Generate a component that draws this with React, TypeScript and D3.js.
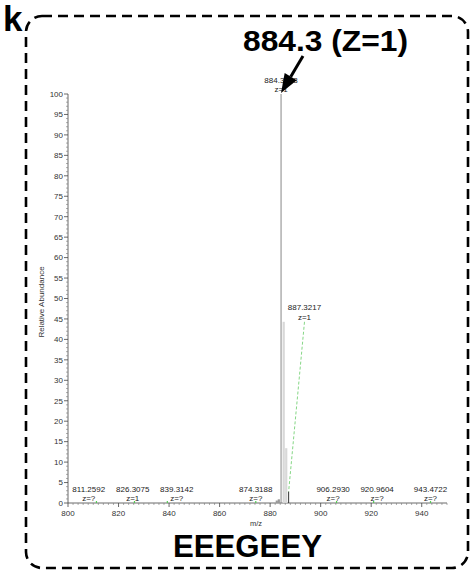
import React from "react";
import * as d3 from "d3";

// ---- data ----
const labelMz = [811.2592, 826.3075, 839.3142, 874.3188, 884.3243, 887.3217, 906.293, 920.9604, 943.4722];
const labelIntensity = [0.3, 0.3, 0.3, 0.3, 100, 2.8, 0.3, 0.3, 0.3];
const labelCharge = ["z=?", "z=1", "z=?", "z=?", "z=1", "z=1", "z=?", "z=?", "z=?"];
const profileMz = [882.6, 883.4, 885.33, 886.33];
const profileIntensity = [0.6, 0.9, 44.3, 13.4];
const xTicks = [800, 820, 840, 860, 880, 900, 920, 940];
const yTicks = [0, 5, 10, 15, 20, 25, 30, 35, 40, 45, 50, 55, 60, 65, 70, 75, 80, 85, 90, 95, 100];
const titleText = "884.3 (Z=1)";
const sequenceText = "EEEGEEY";
const panelLetter = "k";

const W = 471;
const H = 570;
const FONT = "Liberation Sans, Arial, Helvetica, sans-serif";

export default function App() {
  const x = d3.scaleLinear().domain([800, 950]).range([68, 447]);
  const y = d3.scaleLinear().domain([0, 100]).range([503, 94]);
  const y0 = y(0);

  const minorY = d3.range(0, 101, 1).filter((v) => v % 5 !== 0);
  const minorX = d3.range(800, 951, 2).filter((v) => v % 20 !== 0);

  // labels with simple collision avoidance for small peaks
  const smallIdx = labelMz.map((_, i) => i).filter((i) => labelIntensity[i] < 1);
  const pos: Record<number, number> = {};
  smallIdx.forEach((i) => (pos[i] = x(labelMz[i])));
  const minGap = 44;
  for (let iter = 0; iter < 200; iter++) {
    for (let k = 0; k < smallIdx.length - 1; k++) {
      const a = smallIdx[k];
      const b = smallIdx[k + 1];
      const gap = pos[b] - pos[a];
      if (gap < minGap) {
        const d = (minGap - gap) / 2;
        pos[a] -= d;
        pos[b] += d;
      }
    }
  }

  // isotope label anchor (displaced label of 887.3217)
  const isoLabelMz = 893.6;
  const isoLabelInt = 44.3;

  const arrowTip: [number, number] = [281, 93];
  const arrowStart: [number, number] = [303, 56];
  const ang = Math.atan2(arrowTip[1] - arrowStart[1], arrowTip[0] - arrowStart[0]);
  const headLen = 19;
  const headW = 7;
  const bx = arrowTip[0] - headLen * Math.cos(ang);
  const by = arrowTip[1] - headLen * Math.sin(ang);
  const px = -Math.sin(ang);
  const py = Math.cos(ang);
  const headPts = [
    arrowTip,
    [bx + headW * px, by + headW * py],
    [bx - headW * px, by - headW * py],
  ]
    .map((p) => p.join(","))
    .join(" ");

  const LF = 8;

  return (
    <svg width={W} height={H} style={{ position: "absolute", left: 0, top: 0, background: "#fff" }} fontFamily={FONT}>
      <rect x={0} y={0} width={W} height={H} fill="#fff" />
      {/* dashed border */}
      <rect x={26} y={16} width={442} height={552} rx={16} ry={16} fill="none" stroke="#000" strokeWidth={2.6} strokeDasharray="10,6" />
      <text x={3} y={31} fontSize={35} fontWeight="bold" fill="#000">{panelLetter}</text>

      {/* title */}
      <text x={243} y={51} fontSize={29} fontWeight="bold" fill="#000" textLength={165} lengthAdjust="spacingAndGlyphs">{titleText}</text>

      {/* y axis */}
      <line x1={68} x2={68} y1={y(100)} y2={y0} stroke="#444" strokeWidth={0.8} />
      {yTicks.map((t) => (
        <g key={"yt" + t}>
          <line x1={64} x2={68} y1={y(t)} y2={y(t)} stroke="#444" strokeWidth={0.8} />
          <text x={63} y={y(t) + 2.8} fontSize={8} textAnchor="end" fill="#333">{t}</text>
        </g>
      ))}
      {minorY.map((t) => (
        <line key={"ym" + t} x1={66} x2={68} y1={y(t)} y2={y(t)} stroke="#777" strokeWidth={0.6} />
      ))}
      <text transform={`translate(44,302) rotate(-90)`} fontSize={8} textAnchor="middle" fill="#333">Relative Abundance</text>

      {/* x axis */}
      <line x1={68} x2={447} y1={y0} y2={y0} stroke="#444" strokeWidth={0.8} />
      {xTicks.map((t) => (
        <g key={"xt" + t}>
          <line x1={x(t)} x2={x(t)} y1={y0} y2={y0 + 4} stroke="#444" strokeWidth={0.8} />
          <text x={x(t)} y={516} fontSize={8} textAnchor="middle" fill="#333">{t}</text>
        </g>
      ))}
      {minorX.map((t) => (
        <line key={"xm" + t} x1={x(t)} x2={x(t)} y1={y0} y2={y0 + 2} stroke="#777" strokeWidth={0.6} />
      ))}
      <text x={256} y={526} fontSize={7.5} textAnchor="middle" fill="#333">m/z</text>

      {/* profile (isotope) bars */}
      {profileMz.map((m, i) => (
        <rect key={"pr" + i} x={x(m) - 1} y={y(profileIntensity[i])} width={2.2} height={y0 - y(profileIntensity[i])} fill={profileIntensity[i] > 5 ? "#d8d8d8" : "#999"} />
      ))}

      {/* labelled peaks */}
      {labelMz.map((m, i) => {
        const inten = labelIntensity[i];
        const px0 = x(m);
        const top = y(inten);
        const isMain = inten >= 99;
        const small = inten < 1;
        if (small) {
          const lx = pos[i];
          return (
            <g key={"pk" + i}>
              <line x1={px0} x2={px0} y1={y0 - 2} y2={y0} stroke="#5c5" strokeWidth={1.2} />
              <text x={lx} y={y0 - 11.5} fontSize={LF} textAnchor="middle" fill="#222">{m.toFixed(4)}</text>
              <text x={lx} y={y0 - 2.3} fontSize={LF} textAnchor="middle" fill="#222">{labelCharge[i]}</text>
            </g>
          );
        }
        if (isMain) {
          return (
            <g key={"pk" + i}>
              <line x1={px0} x2={px0} y1={top} y2={y0} stroke="#888" strokeWidth={1} />
              <text x={px0} y={top - 11.5} fontSize={LF} textAnchor="middle" fill="#222">{m.toFixed(4)}</text>
              <text x={px0} y={top - 2} fontSize={LF} textAnchor="middle" fill="#222">{labelCharge[i]}</text>
            </g>
          );
        }
        const lx = x(isoLabelMz);
        const ly = y(isoLabelInt);
        return (
          <g key={"pk" + i}>
            <line x1={px0} x2={px0} y1={top} y2={y0} stroke="#333" strokeWidth={1} />
            <line x1={lx} x2={px0} y1={ly} y2={top} stroke="#6c6" strokeWidth={0.8} strokeDasharray="3,2" />
            <text x={lx} y={ly - 11.5} fontSize={LF} textAnchor="middle" fill="#222">{m.toFixed(4)}</text>
            <text x={lx} y={ly - 2} fontSize={LF} textAnchor="middle" fill="#222">{labelCharge[i]}</text>
          </g>
        );
      })}

      {/* arrow */}
      <line x1={arrowStart[0]} y1={arrowStart[1]} x2={bx} y2={by} stroke="#000" strokeWidth={3} />
      <polygon points={headPts} fill="#000" />

      {/* sequence */}
      <text x={247.5} y={557} fontSize={31} fontWeight="bold" textAnchor="middle" fill="#000" textLength={149} lengthAdjust="spacingAndGlyphs">{sequenceText}</text>
    </svg>
  );
}
